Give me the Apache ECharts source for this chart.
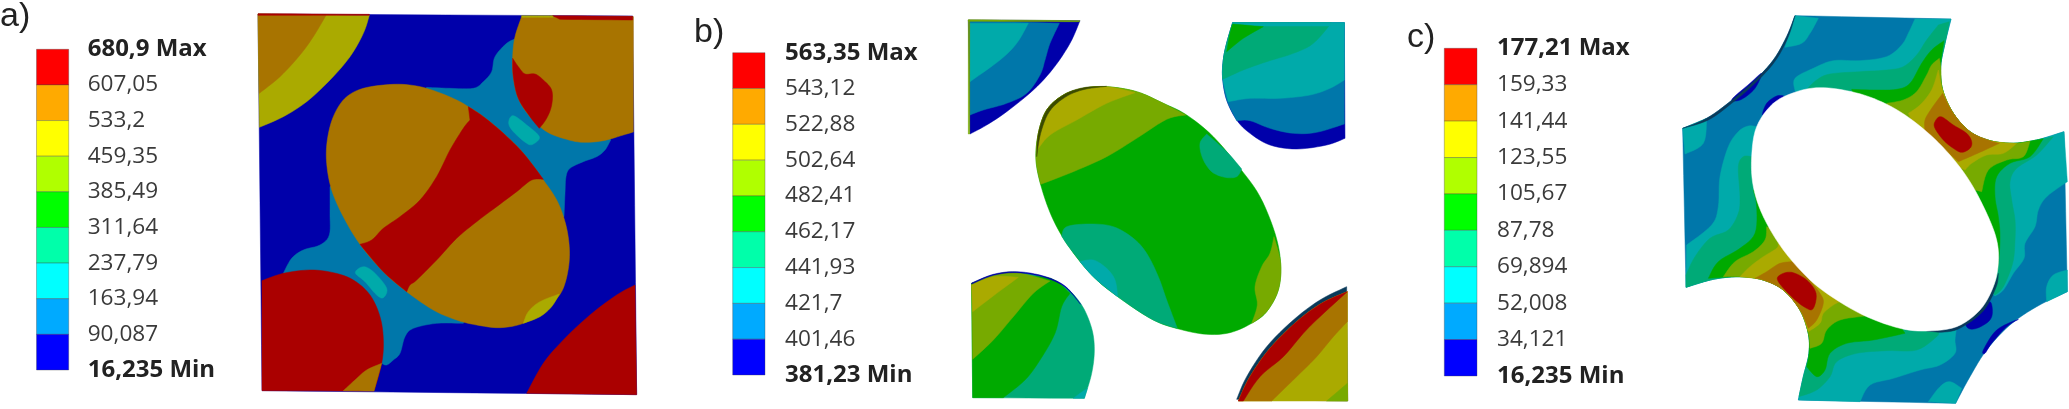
<!DOCTYPE html>
<html><head><meta charset="utf-8">
<style>html,body{margin:0;padding:0;background:#fff}#c{width:2069px;height:409px}</style>
<script src="https://cdn.jsdelivr.net/npm/echarts@6/dist/echarts.min.js"></script>
</head><body><div id="c"></div>
<script>
// ---------- legend data ----------
const bandColors = ['#FF0000','#FFAA00','#FFFF00','#B0FF00','#00FF00','#00FFAA','#00FFFF','#00AAFF','#0000FF'];
const ticksA = ['680,9 Max','607,05','533,2','459,35','385,49','311,64','237,79','163,94','90,087','16,235 Min'];
const ticksB = ['563,35 Max','543,12','522,88','502,64','482,41','462,17','441,93','421,7','401,46','381,23 Min'];
const ticksC = ['177,21 Max','159,33','141,44','123,55','105,67','87,78','69,894','52,008','34,121','16,235 Min'];
const panelNames = ['a)','b)','c)'];

// contour shades
const RED='#AA0000',ORA='#A87400',OLI='#AAAA00',YGR='#77AA00',GRN='#00AA00',SPR='#00AA77',CYA='#00AAAA',AZU='#0077AA',BLU='#0000AA',WHT='#FFFFFF',DRK='#0A3A5A',DOL='#3A4A00';

// ---------- panel a contours: [x, y, cornerFlag] ----------
const aField=[[24,42,1],[1148,48,1],[1160,1184,1],[36,1172,1]];
const aTLYellow=[[24,42,1],[358,46,1],[340,100],[300,170],[240,240],[170,305],[100,350],[28,382,1]];
const aTLOrange=[[24,42,1],[228,46,1],[190,110],[150,165],[90,230],[28,280,1]];
const aTLStrip=[[24,41,1],[358,43,1],[358,46,1],[24,46,1]];
const aAzure=[[530,262,1],[600,265],[670,265],[700,245],[725,215],[735,170],[770,130],[800,115,1],[1000,250,1],[1082,420,1],[1065,450],[1040,470],[1000,485],[960,505],[948,530],[945,580],[942,650,1],[800,700,1],[640,970,1],[560,970],[490,985],[465,1010],[450,1060],[430,1080],[410,1095],[395,1090,1],[300,950,1],[100,820,1],[125,775],[160,750],[210,735],[238,705],[240,640],[240,560,1],[400,500,1]];
const aEllipse=[[430,253],[500,258],[560,275],[620,300],[655,320],[700,350],[760,400],[820,460],[880,540],[920,600],[945,665],[957,730],[957,790],[945,850],[925,890],[880,935],[820,970],[750,983],[680,975],[620,960],[550,930],[470,875],[400,815],[330,733],[280,650],[245,570],[230,490],[232,420],[250,350],[285,295],[340,265]];
const aEllRed=[[655,320,1],[700,350],[760,400],[820,460],[880,538,1],[845,540],[800,575],[740,620],[680,665],[620,715],[560,780],[500,840],[480,855],[470,875,1],[400,815],[330,733,1],[365,720],[400,685],[450,650],[510,600],[560,530],[600,450],[640,385],[660,360,1]];
const aEllYellow=[[820,970,1],[835,935],[870,905],[928,882,1],[905,920],[870,950]];
const aPatch1=[[790,347],[830,375],[868,410],[850,432],[830,430],[790,395],[776,368]];
const aPatch2=[[342,800],[375,820],[410,865],[400,893],[380,885],[345,845],[316,818]];
const aTR=[[815,50,1],[1150,50,1],[1150,396,1],[1120,405],[1060,422],[1000,427],[950,418],[890,395],[840,350],[805,295],[790,230],[788,170],[795,110]];
const aTRStripO=[[815,47,1],[910,47,1],[910,52,1],[815,52,1]];
const aTRStripR=[[908,47,1],[1148,49,1],[1148,60,1],[930,58,1]];
const aTRRed=[[788,175,1],[805,200],[825,222],[855,222],[880,240],[905,270],[905,315],[890,355],[868,385,1],[840,350],[805,295],[790,230]];
const aBL=[[36,842,1],[100,820],[180,810],[250,818],[310,840],[360,885],[390,950],[400,1020],[395,1090],[372,1173,1],[36,1172,1]];
const aBLOrange=[[395,1090,1],[372,1173,1],[280,1172,1],[315,1140],[350,1110]];
const aBR=[[1155,855,1],[1160,1184,1],[830,1180,1],[880,1090],[940,1020],[1020,945],[1100,885]];
const panelA=[[aField,BLU],[aTLYellow,OLI],[aTLOrange,ORA],[aTLStrip,RED],[aAzure,AZU],[aEllipse,ORA],[aEllRed,RED],[aEllYellow,OLI],[aPatch1,CYA],[aPatch2,CYA],[aTR,ORA],[aTRStripO,OLI],[aTRStripR,RED],[aTRRed,RED],[aBL,RED],[aBLOrange,ORA],[aBR,RED]];

// ---------- panel b contours ----------
const bTL=[[55,60,1],[390,62,1],[360,130],[310,205],[250,270],[170,335],[110,375],[60,402,1]];
const bTLAz=[[60,62,1],[328,70,1],[300,130],[285,180],[270,225],[230,280],[170,310],[100,330],[60,345,1]];
const bTLCy=[[60,70,1],[235,70,1],[200,130],[150,180],[60,245,1]];
const bTLStrip=[[55,59,1],[390,62,1],[388,65,1],[55,64,1]];
const bTLEdge=[[55,60,1],[59,60,1],[59,402,1],[55,402,1]];
const bTR=[[848,68,1],[1183,68,1],[1185,415,1],[1130,435],[1040,447],[960,435],[900,400],[860,360],[830,300],[818,235],[820,180],[830,130]];
const bTRAz=[[848,68,1],[1183,68,1],[1183,372,1],[1100,397],[1030,400],[960,385],[900,362],[860,362,1],[830,300],[818,235],[820,180],[830,130]];
const bTRCy=[[848,68,1],[1183,68,1],[1183,240,1],[1140,265],[1080,285],[990,295],[900,295],[835,305,1],[818,235],[820,180],[830,130]];
const bTRSp=[[848,68,1],[1145,68,1],[1090,130],[1030,160],[950,185],[880,210],[818,238,1],[820,180],[830,130]];
const bTRGr=[[848,72,1],[940,80,1],[880,115],[830,155,1],[840,100]];
const bTRStrip=[[848,68,1],[1183,68,1],[1183,78,1],[848,78,1]];
const bEll=[[470,260],[560,275],[640,310],[710,345],[790,410],[870,505],[930,590],[975,700],[992,790],[985,870],[950,935],[905,970],[840,998],[770,1003],[690,988],[610,960],[510,895],[430,830],[360,745],[310,660],[275,565],[258,480],[265,400],[290,330],[340,285],[400,265]];
const bEllYg=[[258,480],[265,400],[290,330],[340,285],[400,265],[470,260],[560,275],[640,310],[708,345,1],[650,358],[560,415],[470,470],[370,515],[272,553,1]];
const bEllOl=[[262,450,1],[300,405],[380,360],[470,310],[555,278,1],[470,260],[400,265],[340,285],[290,330],[265,400]];
const bEllDark=[[260,470,1],[265,400],[290,330],[340,285],[400,263],[470,259,1],[400,269],[345,292],[298,335],[272,400]];
const bEllSp1=[[770,402,1],[750,430],[758,475],[785,515],[825,532],[860,530],[875,507,1],[830,455]];
const bEllSp2=[[335,708,1],[350,680],[420,672],[490,680],[550,715],[590,760],[625,830],[650,900],[682,985,1],[610,960],[510,895],[430,830],[360,745]];
const bEllCy=[[390,785,1],[430,780],[470,805],[495,840],[503,890,1],[430,830]];
const bEllYg2=[[972,710,1],[992,790],[985,870],[950,935],[905,970,1],[922,915],[915,860],[935,800],[960,760]];
const bBL=[[65,850,1],[130,825],[200,817],[280,830],[345,860],[395,915],[425,985],[433,1050],[425,1120],[403,1195,1],[68,1193,1]];
const bBLCy=[[370,1195,1],[403,1195,1],[412,1165,1],[390,1180]];
const bBLGr=[[65,850,1],[280,830],[360,880,1],[335,920],[315,1000],[270,1080],[225,1140],[160,1193,1],[68,1193,1]];
const bBLYg=[[65,850,1],[130,825],[200,817],[300,843,1],[250,880],[190,950],[130,1020],[68,1078,1]];
const bBLOl=[[65,855,1],[130,830],[205,832,1],[140,880],[68,935,1]];
const bBLEdge=[[65,849,1],[130,823],[200,815],[280,828],[345,858],[392,913,1],[345,861],[280,831],[200,818],[130,826],[65,852,1]];
const bBR=[[1190,860,1],[1193,1203,1],[860,1198,1],[890,1130],[950,1040],[1030,960],[1110,900]];
const bBROl=[[1192,875,1],[1193,1203,1],[865,1203,1],[900,1130],[960,1045],[1040,965],[1115,910]];
const bBROr=[[1192,875,1],[1192,965,1],[1150,1010],[1100,1070],[1040,1130],[965,1203,1],[865,1203,1],[900,1130],[960,1045],[1040,965],[1115,910]];
const bBRRe=[[1192,875,1],[1110,950],[1060,1000],[1000,1070],[930,1130],[880,1203,1],[865,1203,1],[900,1130],[960,1045],[1040,965],[1115,910]];
const bBRYg=[[1192,1150,1],[1193,1203,1],[1130,1203,1]];
const panelB=[[bTL,BLU],[bTLAz,AZU],[bTLCy,CYA],[bTLStrip,YGR],[bTLEdge,YGR],[bTR,BLU],[bTRAz,AZU],[bTRCy,CYA],[bTRSp,SPR],[bTRStrip,CYA],[bTRGr,GRN],[bEll,GRN],[bEllYg,YGR],[bEllOl,OLI],[bEllDark,DOL],[bEllSp1,SPR],[bEllSp2,SPR],[bEllCy,CYA],[bEllYg2,YGR],[bBL,SPR],[bBLCy,CYA],[bBLGr,GRN],[bBLYg,YGR],[bBLOl,OLI],[bBLEdge,BLU],[bBR,DRK],[bBROl,OLI],[bBROr,ORA],[bBRRe,RED],[bBRYg,YGR]];

// ---------- panel c contours ----------
const cBase=[[405,47,1],[873,57,1],[855,130],[842,200],[848,270],[880,340],[930,395],[990,422],[1060,430],[1130,420],[1212,395,1],[1222,875,1],[1130,920],[1050,975],[980,1050],[930,1130],[887,1210,1],[415,1200,1],[430,1130],[447,1060],[445,1000],[420,930],[370,870],[310,840],[240,830],[160,838],[78,862,1],[68,385,1],[140,355],[210,305],[280,245],[340,180],[380,110]];
const cCorner1=[[405,47,1],[475,55,1],[450,100],[425,130],[375,142,1]];
const cCorner2=[[68,385,1],[140,355,1],[130,430],[75,462,1]];
const cCorner3=[[1222,810,1],[1222,875,1],[1160,905,1],[1160,860],[1180,825]];
const cCorner4=[[887,1210,1],[805,1205,1],[840,1160],[870,1145],[905,1165,1]];
const cCyaNE=[[765,57,1],[873,57,1],[855,130],[842,200],[848,270],[880,340],[930,395],[990,422],[1060,430],[1130,420],[1212,395,1],[1222,545,1],[1160,590],[1135,630],[1125,680],[1095,730],[1092,775],[1060,820],[1030,870],[1005,888,1],[650,600,1],[405,272,1],[405,235],[460,205],[520,182],[600,182],[680,170],[725,135],[745,100]];
const cCyaSW=[[290,380,1],[265,378],[235,395],[205,440],[180,530],[175,620],[155,675],[80,735,1],[78,862,1],[160,838],[240,830],[310,840],[370,870],[420,930],[445,1000],[447,1060],[430,1130],[415,1200,1],[600,1205,1],[630,1155],[700,1135],[780,1110],[840,1095],[885,1060],[885,1020],[890,980,1],[600,650,1]];
const cSprNE=[[835,75,1],[868,65,1],[855,130],[842,200],[848,270],[880,340],[930,395],[990,422],[1060,430],[1130,420],[1180,410,1],[1130,465],[1070,505],[1050,545],[1055,600],[1065,660],[1065,720],[1058,790],[1030,860],[1005,885,1],[700,600,1],[440,268,1],[470,240],[510,222],[600,215],[680,210],[730,200],[770,165],[800,120]];
const cSprSW=[[275,470,1],[250,470],[235,500],[240,590],[235,640],[205,690],[150,715],[105,770],[78,825,1],[78,862,1],[160,838],[240,830],[310,840],[370,870],[420,930],[445,1000],[447,1060],[430,1130],[417,1190,1],[470,1170],[510,1130],[530,1085],[590,1060],[680,1052],[770,1050],[830,1010],[835,995,1],[600,700,1]];
const cGrnNE=[[852,122,1],[842,200],[848,270],[880,340],[930,395],[990,422],[1060,430],[1130,420],[1150,416,1],[1110,470],[1050,490],[1010,530],[1005,590],[1015,650],[1020,710],[1015,790],[1000,860,1],[700,600,1],[575,268,1],[640,270],[710,268],[750,250],[785,190],[815,150]];
const cGrnSW=[[280,570,1],[290,620],[285,700],[240,745],[175,785],[145,835,1],[240,830],[310,840],[370,870],[420,930],[445,1000],[447,1060],[440,1100,1],[470,1130],[495,1110],[510,1060],[560,1030],[640,1020],[735,1000,1],[600,800,1]];
const cYgrNE=[[838,175,1],[842,200],[848,270],[880,340],[930,395],[990,422],[1060,430],[1110,424,1],[1090,470],[1040,480],[985,510],[965,575,1],[700,500,1],[680,310,1],[730,300],[770,275],[800,225],[815,195]];
const cYgrSW=[[320,680,1],[315,720],[280,755],[225,785],[190,830,1],[240,830],[310,840],[370,870],[420,930],[445,1000],[450,1045,1],[485,1030],[500,990],[540,960],[615,948,1],[600,800,1]];
const cOliNE=[[835,210,1],[848,270],[880,340],[930,395],[990,422],[1060,430],[1070,430,1],[1030,460],[980,465],[935,490],[915,510,1],[800,450,1],[745,340,1],[780,315],[815,270]];
const cOliSW=[[355,730,1],[350,745],[310,770],[270,800],[240,830,1],[310,840],[370,870],[420,930],[445,995,1],[480,970],[490,940],[520,915],[540,905,1],[450,800,1]];
const cOraNE=[[848,280,1],[880,340],[930,395],[990,422],[1018,430,1],[975,450],[930,470],[895,485,1],[795,395,1],[795,360],[815,325]];
const cOraSW=[[400,785,1],[360,790],[320,815],[285,835,1],[310,840],[370,870],[420,930],[445,985,1],[470,960],[490,910],[480,880],[445,835],[420,800]];
const cRedNE=[[843,350],[880,375],[920,400],[935,425],[930,445],[905,457],[880,445],[850,420],[825,385],[825,365]];
const cRedSW=[[395,817],[440,840],[468,880],[460,925],[440,925],[400,895],[355,845],[360,825]];
const cBlue1=[[218,295],[270,250],[305,220],[285,265],[250,295],[225,303]];
const cBlue2=[[308,345],[320,310],[350,288],[372,290],[340,310]];
const cBlue3=[[920,965],[960,930],[990,905],[997,940],[985,965],[950,985],[925,985]];
const cBlue4=[[970,1050],[1010,990],[1075,958],[1040,980],[995,1030],[975,1060]];
const cEdgeOuter=[[68,385,1],[140,355],[210,305],[280,245],[340,180],[380,110],[405,47,1],[384,112],[345,184],[285,250],[215,310],[145,360]];
const cEdgeHole=[[1015,820,1],[1008,862],[968,935],[895,987],[840,997,1],[800,993,1],[890,975],[960,925],[1000,860]];
const cHole=[[480,263],[560,272],[640,295],[720,335],[800,395],[870,465],[930,545],[980,640],[1010,720],[1015,790],[1000,860],[960,930],[890,980],[800,993],[720,985],[620,950],[530,900],[450,840],[370,750],[310,650],[280,560],[275,470],[290,380],[340,310],[410,275]];
const panelC=[[cBase,AZU],[cCorner1,CYA],[cCorner2,CYA],[cCorner3,CYA],[cCorner4,CYA],[cCyaNE,CYA],[cCyaSW,CYA],[cSprNE,SPR],[cSprSW,SPR],[cGrnNE,GRN],[cGrnSW,GRN],[cYgrNE,YGR],[cYgrSW,YGR],[cOliNE,OLI],[cOliSW,OLI],[cOraNE,ORA],[cOraSW,ORA],[cRedNE,RED],[cRedSW,RED],[cBlue1,BLU],[cBlue2,BLU],[cBlue3,BLU],[cBlue4,BLU],[cEdgeOuter,DRK],[cEdgeHole,DRK],[cHole,WHT]];

// rounded outline through the read vertices; flagged vertices stay sharp
function rounded(P){
  const n=P.length,out=[];
  for(let i=0;i<n;i++){
    const p1=P[i],p2=P[(i+1)%n];
    const p0=p1[2]?p1:P[(i-1+n)%n],p3=p2[2]?p2:P[(i+2)%n];
    for(let s=0;s<6;s++){
      const t=s/6,a=2*t*t*t-3*t*t+1,b=t*t*t-2*t*t+t,c=-2*t*t*t+3*t*t,d=t*t*t-t*t;
      out.push([a*p1[0]+b*.5*(p2[0]-p0[0])+c*p2[0]+d*.5*(p3[0]-p1[0]),
                a*p1[1]+b*.5*(p2[1]-p0[1])+c*p2[1]+d*.5*(p3[1]-p1[1])]);
    }
  }
  return out;
}
const contourSeries=(layers,idx)=>({
  type:'custom',coordinateSystem:'cartesian2d',xAxisIndex:idx,yAxisIndex:idx,silent:true,clip:false,
  data:layers.map((_,i)=>[i]),
  renderItem:(params,api)=>{
    const L=layers[api.value(0)];
    return {type:'polygon',shape:{points:rounded(L[0]).map(p=>api.coord(p))},style:{fill:L[1],stroke:L[1],lineWidth:0.5}};
  }
});
const bandSeries=(idx)=>({
  type:'custom',coordinateSystem:'cartesian2d',xAxisIndex:idx,yAxisIndex:idx,silent:true,clip:false,
  data:bandColors.map((_,i)=>[i]),
  renderItem:(params,api)=>{
    const i=api.value(0),a=api.coord([0,i]),b=api.coord([1,i+1]);
    return {type:'rect',shape:{x:a[0],y:a[1],width:b[0]-a[0],height:b[1]-a[1]},style:{fill:bandColors[i],stroke:'rgba(70,70,70,0.35)',lineWidth:1}};
  }
});

// grids: three contour panels (units = 1/3 px), then three colour scales
const panels=[{l:250,w:400},{l:950,w:420},{l:1660,w:409}];
const scales=[{l:36.5,w:32.2,t:49.3,h:320.7,m:19,ticks:ticksA},{l:732.7,w:32.3,t:52.7,h:322.3,m:20,ticks:ticksB},{l:1444.3,w:32.7,t:48.3,h:327.7,m:20,ticks:ticksC}];
const grid=[...panels.map(p=>({left:p.l,top:0,width:p.w,height:409})),...scales.map(s=>({left:s.l,top:s.t,width:s.w,height:s.h}))];
const xAxis=[...panels.map(p=>({type:'value',gridIndex:panels.indexOf(p),min:0,max:p.w*3,show:false})),
  ...scales.map((s,i)=>({type:'value',gridIndex:i+3,min:0,max:1,show:false}))];
const yAxis=[...panels.map((p,i)=>({type:'value',gridIndex:i,min:0,max:1227,inverse:true,show:false})),
  ...scales.map((s,i)=>({type:'value',gridIndex:i+3,min:0,max:9,interval:1,inverse:true,position:'right',
    axisLine:{show:false},axisTick:{show:false},splitLine:{show:false},
    axisLabel:{show:true,margin:s.m,align:'left',showMinLabel:true,showMaxLabel:true,hideOverlap:false,
      fontFamily:'Open Sans',fontSize:22.6,color:'#3a3a3a',
      formatter:v=>{const t=s.ticks[v];return (v===0||v===9)?'{b|'+t+'}':t;},
      rich:{b:{fontFamily:'Open Sans',fontSize:24,fontWeight:'bold',color:'#222'}}}}))];

const nameStyle={fontFamily:'Liberation Sans',fontSize:34,fontWeight:'normal',color:'#222'};
const chart=echarts.init(document.getElementById('c'),null,{renderer:'canvas'});
chart.setOption({
  animation:false,backgroundColor:'#fff',
  title:[
    {text:panelNames[0],left:0,top:0,padding:0,textStyle:nameStyle},
    {text:panelNames[1],left:694,top:16,padding:0,textStyle:nameStyle},
    {text:panelNames[2],left:1407,top:21,padding:0,textStyle:nameStyle}
  ],
  grid,xAxis,yAxis,
  series:[contourSeries(panelA,0),contourSeries(panelB,1),contourSeries(panelC,2),bandSeries(3),bandSeries(4),bandSeries(5)]
});
</script></body></html>
